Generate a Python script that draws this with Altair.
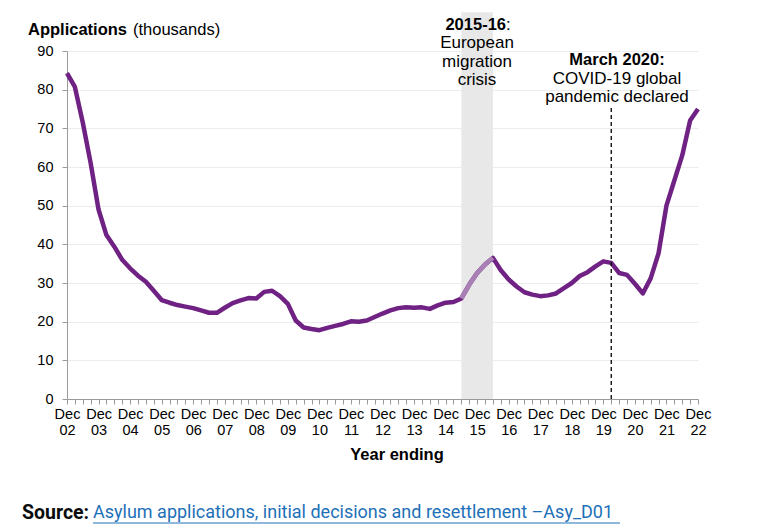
import altair as alt
import pandas as pd

# ---------------- data ----------------
quarter_index = list(range(81))  # Dec 02 (0) ... Dec 22 (80), quarterly
applications = [
    84.3, 80.7, 71.5, 61.0, 49.0, 42.4, 39.4, 36.0, 33.8, 31.9,
    30.3, 28.0, 25.6, 24.9, 24.3, 23.9, 23.5, 22.9, 22.3, 22.3,
    23.6, 24.8, 25.5, 26.1, 26.0, 27.7, 28.0, 26.6, 24.6, 20.3,
    18.5, 18.1, 17.8, 18.4, 18.9, 19.4, 20.1, 20.0, 20.3, 21.2,
    22.1, 22.9, 23.5, 23.7, 23.6, 23.7, 23.3, 24.2, 24.9, 25.1,
    26.0, 29.6, 32.6, 34.8, 36.5, 33.3, 30.9, 29.1, 27.6, 27.0,
    26.6, 26.8, 27.3, 28.7, 30.0, 31.8, 32.8, 34.3, 35.6, 35.2,
    32.6, 32.1, 29.8, 27.3, 31.2, 37.7, 50.0, 56.5, 63.0, 72.0,
    75.0,
]
year_labels = ["02", "03", "04", "05", "06", "07", "08", "09", "10", "11",
               "12", "13", "14", "15", "16", "17", "18", "19", "20", "21", "22"]
y_ticks = [0, 10, 20, 30, 40, 50, 60, 70, 80, 90]
band_start, band_end, band_top = 50, 54, 100
covid_index, covid_top = 69, 75.5

FONT = "Liberation Sans"
PURPLE = "#6f2283"
PURPLE_LIGHT = "#a880b3"

df = pd.DataFrame({"q": quarter_index, "apps": applications})
hl = df[(df.q >= band_start) & (df.q <= band_end)]

x_scale = alt.Scale(domain=[0, 80], nice=False, zero=False)
y_scale = alt.Scale(domain=[0, 90], nice=False)

label_expr = "datum.value % 4 == 0 ? ['Dec', " + str(year_labels) + "[datum.value / 4]] : ''"

x_axis = alt.Axis(
    values=quarter_index, labelExpr=label_expr, title=None, grid=False,
    domainColor="#9a9a9a", tickColor="#9a9a9a", tickSize=5,
    labelFont=FONT, labelFontSize=14.5, labelColor="#000000", labelLineHeight=16,
    labelPadding=3, labelAngle=0, labelOverlap=False, labelFlush=False,
)
y_axis = alt.Axis(
    values=y_ticks, title=None, grid=True, gridColor="#ececec", gridWidth=1,
    domainColor="#9a9a9a", tickColor="#9a9a9a", tickSize=5, labelOverlap=False,
    labelFont=FONT, labelFontSize=14.5, labelColor="#000000", labelPadding=9,
)

band = alt.Chart(pd.DataFrame({"q": [band_start], "e": [band_end], "apps": [0], "t": [band_top]})).mark_rect(
    color="#e8e8e8"
).encode(
    x=alt.X("q:Q", scale=x_scale, axis=x_axis),
    x2="e:Q",
    y=alt.Y("apps:Q", scale=y_scale, axis=y_axis),
    y2="t:Q",
)

line = alt.Chart(df).mark_line(color=PURPLE, strokeWidth=4.5, strokeJoin="round").encode(
    x=alt.X("q:Q", scale=x_scale, axis=x_axis),
    y=alt.Y("apps:Q", scale=y_scale, axis=y_axis),
)
line_hl = alt.Chart(hl).mark_line(color=PURPLE_LIGHT, strokeWidth=4.5, strokeJoin="round").encode(
    x=alt.X("q:Q", scale=x_scale, axis=x_axis),
    y=alt.Y("apps:Q", scale=y_scale, axis=y_axis),
)

covid = alt.Chart(pd.DataFrame({"q": [covid_index], "apps": [0], "t": [covid_top]})).mark_rule(
    color="#000000", strokeDash=[4, 3], strokeWidth=1.3
).encode(
    x=alt.X("q:Q", scale=x_scale, axis=x_axis),
    y=alt.Y("apps:Q", scale=y_scale, axis=y_axis),
    y2="t:Q",
)

def txt(text, x, y, bold=False, align="center", size=17, color="#000000", font=FONT):
    return alt.Chart(pd.DataFrame({"t": [text]})).mark_text(
        font=font, fontSize=size, fontWeight="bold" if bold else "normal",
        align=align, baseline="middle", color=color,
    ).encode(x=alt.value(x), y=alt.value(y), text="t:N")

annotations = [
    # y-axis title
    txt("Applications", -39, -21, bold=True, align="left", size=16.5),
    txt("(thousands)", 66, -21, align="left", size=16.5),
    # x-axis title
    txt("Year ending", 330, 404, bold=True, size=16.5),
    # 2015-16 note
    txt("2015-16", 439, -26, bold=True, align="right", size=16.5),
    txt(":", 439, -26, align="left", size=16.5),
    txt("European", 410, -8),
    txt("migration", 410, 11),
    txt("crisis", 410, 29),
    # March 2020 note
    txt("March 2020:", 550, 9, bold=True, size=16.5),
    txt("COVID-19 global", 550, 28),
    txt("pandemic declared", 550, 46),
    # source
    txt("Source:", -45, 462, bold=True, align="left", size=19.5, font="Roboto", color="#0b0c0c"),
    txt("Asylum applications, initial decisions and resettlement \u2013Asy_D01", 26, 462,
        align="left", size=18, font="Roboto", color="#1d70b8"),
]

underline = alt.Chart(pd.DataFrame({"a": [0]})).mark_rule(color="#1d70b8", strokeWidth=1).encode(
    x=alt.value(26), x2=alt.value(553), y=alt.value(472)
)

chart = alt.layer(band, line, line_hl, covid, *annotations, underline).properties(
    width=631, height=348,
    padding={"left": 59, "top": 43, "right": 70, "bottom": 125},
    autosize=alt.AutoSizeParams(type="none"),
).configure_view(stroke=None)

chart.save("out.html", embed_options={"renderer": "svg", "actions": False})
